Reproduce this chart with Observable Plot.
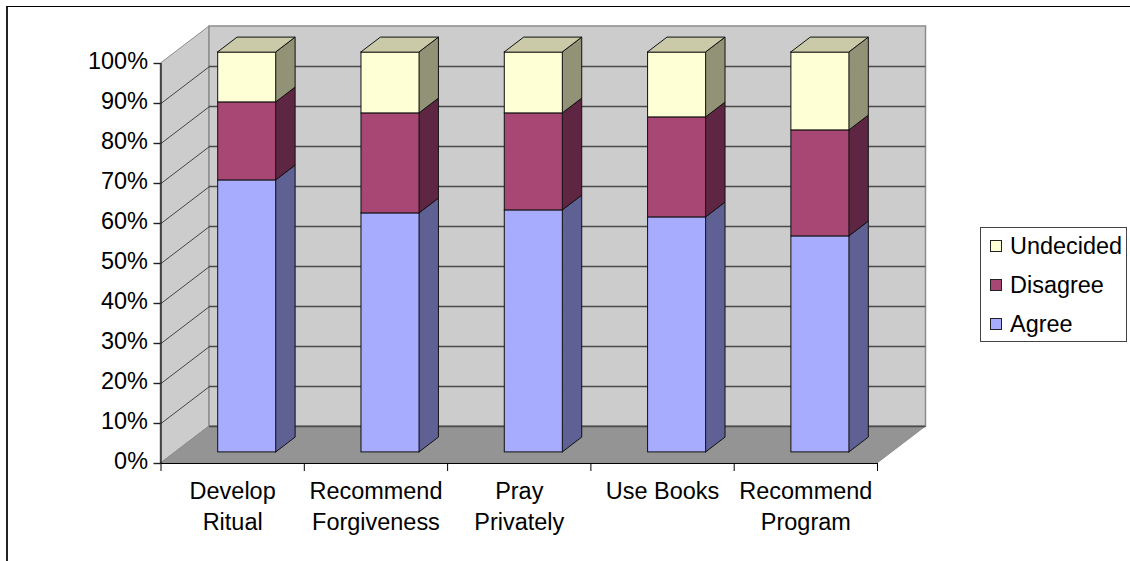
<!DOCTYPE html>
<html>
<head>
<meta charset="utf-8">
<script src="https://cdn.jsdelivr.net/npm/d3@7"></script>
<script src="https://cdn.jsdelivr.net/npm/@observablehq/plot@0.6"></script>
<style>
  html, body { margin: 0; background: #fff; }
  #chart { position: relative; width: 1130px; height: 561px; overflow: hidden; font-family: "Liberation Sans", Arial, sans-serif; }
  #chart svg { position: absolute; left: 0; top: 0; }
  #border { position: absolute; left: 6px; top: 6px; width: 1200px; height: 700px; border-left: 2px solid #222; border-top: 1px solid #000; }
  #legend { position: absolute; left: 980px; top: 227px; width: 145px; height: 113px; border: 1px solid #444; background: #fff; }
  #legend div { position: absolute; left: 9px; height: 24px; display: flex; align-items: center; font-size: 23px; color: #000; white-space: nowrap; }
  #legend i { display: block; width: 10px; height: 10px; border: 1px solid #222; margin-right: 8px; }
  #legend span { display: inline-block; transform: scaleX(1.02); transform-origin: left center; }
</style>
</head>
<body>
<div id="chart"><div id="border"></div></div>
<script>
// Survey responses per item, as percentages of each stacked column.
const categories = ["Develop Ritual", "Recommend Forgiveness", "Pray Privately", "Use Books", "Recommend Program"];
const categoryLines = [["Develop", "Ritual"], ["Recommend", "Forgiveness"], ["Pray", "Privately"], ["Use Books"], ["Recommend", "Program"]];
const agree = [68, 59.75, 60.5, 58.75, 54];
const disagree = [19.5, 25, 24.25, 25, 26.5];
const undecided = [12.5, 15.25, 15.25, 16.25, 19.5];
const yTicks = [0, 10, 20, 30, 40, 50, 60, 70, 80, 90, 100];

const series = [
  {name: "Agree", values: agree, front: "#a8acff", side: "#5f6194", top: "#8a8dd0"},
  {name: "Disagree", values: disagree, front: "#a94774", side: "#5f2643", top: "#8a3a5e"},
  {name: "Undecided", values: undecided, front: "#ffffd6", side: "#929277", top: "#cacaa8"}
];

// The oblique projection is expressed in data units: one floor depth shifts
// x by depthX categories and y by depthY percentage points.
const depthX = 0.3385, depthY = 9.25;
const barInset = 0.3, barDepth = 0.4, barWidth = 0.405;

// Stack each series and place its column segment on the floor.
const segments = series.map((s) => {
  return s.values.map((v, i) => {
    const base = series.slice(0, series.indexOf(s)).reduce((a, o) => a + o.values[i], 0);
    const left = i + 0.5 - barWidth / 2 + barInset * depthX;
    return {
      i, left, right: left + barWidth,
      y0: base + barInset * depthY,
      y1: base + v + barInset * depthY
    };
  });
});

// Two-point strips: a parallelogram running back along the depth axis.
const ts = [0, 1];
const strip = (rows, fn) => rows.flatMap((r, k) => ts.map((t) => ({k, t, ...fn(r, t)})));

const wallFill = "#cccccc", wallEdge = "#8c8c8c";
const marks = [
  // left wall, back wall, floor
  Plot.areaY(strip([0], (_, t) => ({x: t * depthX, y1: t * depthY, y2: 100 + t * depthY})), {x: "x", y1: "y1", y2: "y2", fill: wallFill, stroke: wallEdge, strokeWidth: 1}),
  Plot.rect([0], {x1: depthX, x2: 5 + depthX, y1: depthY, y2: 100 + depthY, fill: wallFill, stroke: wallEdge, strokeWidth: 1.5, inset: 0}),
  Plot.areaX(strip([0], (_, t) => ({y: t * depthY, x1: t * depthX, x2: 5 + t * depthX})), {y: "y", x1: "x1", x2: "x2", fill: "#949494", stroke: wallEdge, strokeWidth: 1}),
  // gridlines across both walls
  Plot.ruleY(yTicks.slice(0, -1), {y: (d) => d + depthY, x1: depthX, x2: 5 + depthX, stroke: "#4a4a4a", strokeWidth: 1.4}),
  Plot.link(yTicks.slice(1, -1), {x1: 0, y1: (d) => d, x2: depthX, y2: (d) => d + depthY, stroke: "#222", strokeWidth: 0.8})
];

// Columns, drawn left to right so nearer faces sit over the gridlines.
categories.forEach((_, i) => {
  series.forEach((s, j) => {
    const seg = segments[j][i];
    marks.push(
      Plot.areaY(strip([seg], (r, t) => ({x: r.right + t * barDepth * depthX, y1: r.y0 + t * barDepth * depthY, y2: r.y1 + t * barDepth * depthY})),
        {x: "x", y1: "y1", y2: "y2", fill: s.side, stroke: "#111", strokeWidth: 1}),
      Plot.rect([seg], {x1: "left", x2: "right", y1: "y0", y2: "y1", fill: s.front, stroke: "#111", strokeWidth: 1, inset: 0})
    );
  });
  const topSeg = segments[series.length - 1][i];
  const topSeries = series[series.length - 1];
  marks.push(
    Plot.areaX(strip([topSeg], (r, t) => ({y: r.y1 + t * barDepth * depthY, x1: r.left + t * barDepth * depthX, x2: r.right + t * barDepth * depthX})),
      {y: "y", x1: "x1", x2: "x2", fill: topSeries.top, stroke: "#111", strokeWidth: 1})
  );
});

// Axes: value axis on the front-left edge, category ticks along the front of the floor.
marks.push(
  Plot.ruleX([0], {y1: 0, y2: 100, stroke: "#000", strokeWidth: 1.2}),
  Plot.ruleY([0], {x1: 0, x2: 5, stroke: "#000", strokeWidth: 1.2}),
  Plot.axisY(yTicks, {tickSize: 7, tickFormat: () => "", stroke: "#222", strokeWidth: 1.4, label: null}),
  Plot.axisY(yTicks, {tickSize: 0, tickPadding: 13, dy: -2, tickFormat: (d) => d + "%", fontSize: 23, fill: "#000", label: null}),
  Plot.axisX(d3.range(categories.length + 1), {tickSize: 8, tickFormat: () => "", stroke: "#000", label: null})
);

// Category labels, one text mark per wrapped line.
const labelRows = categoryLines.flatMap((lines, i) => lines.map((text, line) => ({text, line, x: i + 0.5})));
[0, 1].forEach((line) => {
  marks.push(Plot.text(labelRows.filter((d) => d.line === line), {
    x: "x", text: "text", frameAnchor: "bottom", dy: 35 + line * 31, fontSize: 23, fill: "#000", textAnchor: "middle"
  }));
});

const plot = Plot.plot({
  width: 1130,
  height: 561,
  marginLeft: 160.5,
  marginRight: 253,
  marginTop: 63,
  marginBottom: 98,
  style: {background: "none", fontFamily: "'Liberation Sans', Arial, sans-serif", overflow: "visible"},
  x: {type: "linear", domain: [0, 5], range: [160.5, 877], axis: null},
  y: {type: "linear", domain: [0, 100], range: [463, 63], axis: null},
  marks
});

const chart = document.getElementById("chart");
chart.appendChild(plot);

// Tune each label's width so the text spans the same run as its neighbours.
plot.querySelectorAll("text").forEach((t) => {
  if (!t.textContent) return;
  t.setAttribute("textLength", (t.getComputedTextLength() * 1.02).toFixed(1));
  t.setAttribute("lengthAdjust", "spacingAndGlyphs");
});

// Legend box, listed top-down from the last stacked series.
const legend = document.createElement("div");
legend.id = "legend";
[...series].reverse().forEach((s, k) => {
  const row = document.createElement("div");
  row.style.top = (6 + k * 39) + "px";
  const swatch = document.createElement("i");
  swatch.style.background = s.front;
  const label = document.createElement("span");
  label.textContent = s.name;
  row.append(swatch, label);
  legend.appendChild(row);
});
chart.appendChild(legend);
</script>
</body>
</html>
